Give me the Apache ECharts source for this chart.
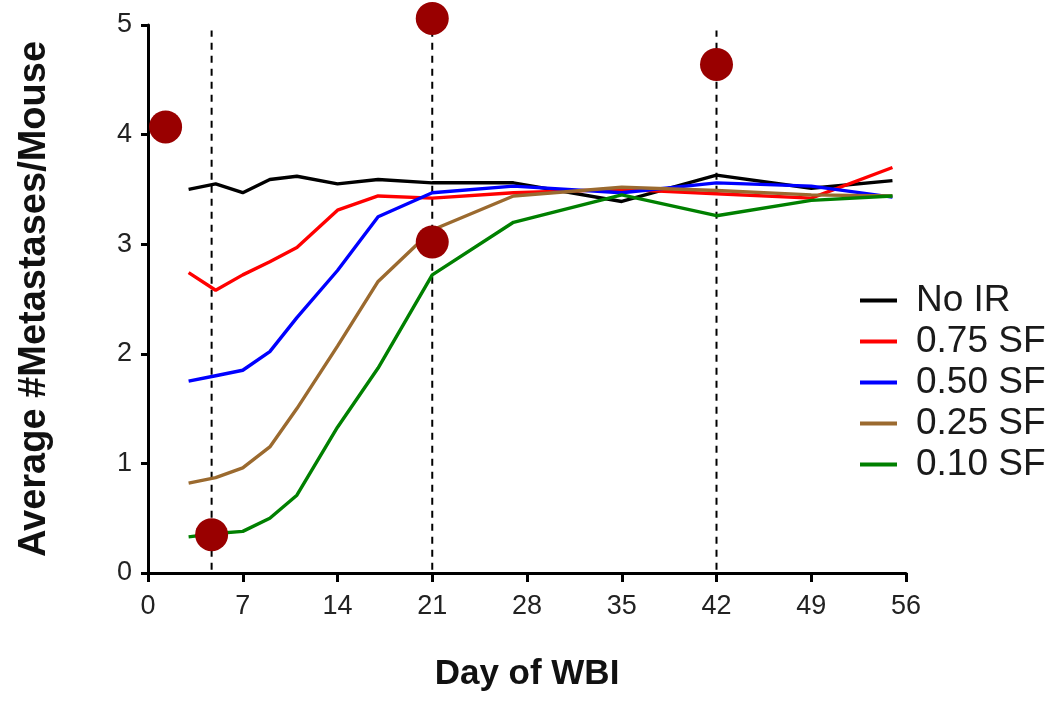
<!DOCTYPE html>
<html>
<head>
<meta charset="utf-8">
<title>Average metastases per mouse</title>
<script src="https://cdn.jsdelivr.net/npm/echarts@6/dist/echarts.min.js"></script>
<style>
  html, body { margin: 0; padding: 0; background: #fff; }
  #chart { width: 1056px; height: 704px; }
</style>
</head>
<body>
<div id="chart"></div>
<script>
// sampled days (x) and per-group averages
const days = [3, 5, 7, 9, 11, 14, 17, 21, 27, 35, 42, 49, 55]
const noIR = [3.50, 3.55, 3.47, 3.59, 3.62, 3.55, 3.59, 3.56, 3.56, 3.39, 3.63, 3.51, 3.58]
const sf075 = [2.74, 2.58, 2.72, 2.84, 2.97, 3.31, 3.44, 3.42, 3.47, 3.50, 3.46, 3.42, 3.70]
const sf050 = [1.75, 1.80, 1.85, 2.02, 2.33, 2.76, 3.25, 3.47, 3.53, 3.47, 3.56, 3.53, 3.43]
const sf025 = [0.82, 0.87, 0.96, 1.15, 1.50, 2.07, 2.66, 3.13, 3.44, 3.52, 3.49, 3.45, 3.44]
const sf010 = [0.33, 0.36, 0.38, 0.50, 0.71, 1.33, 1.87, 2.72, 3.20, 3.45, 3.26, 3.40, 3.44]

// red dots
const dotDays = [1.3, 4.7, 21, 21, 42]
const dotValues = [4.07, 0.35, 5.06, 3.02, 4.64]

// dashed verticals (WBI days) and their vertical extent
const dashedDays = [4.7, 21, 42]
const dashedRange = [0.03, 4.95]

const xTicks = [0, 7, 14, 21, 28, 35, 42, 49, 56]
const yTicks = [0, 1, 2, 3, 4, 5]

const groups = [
  {name: 'No IR', values: noIR, color: '#000000'},
  {name: '0.75 SF', values: sf075, color: '#ff0000'},
  {name: '0.50 SF', values: sf050, color: '#0000ff'},
  {name: '0.25 SF', values: sf025, color: '#9b6a2f'},
  {name: '0.10 SF', values: sf010, color: '#008000'}
]

const font = "'Liberation Sans', Arial, sans-serif"
const axisColor = '#000'

const series = []

dashedDays.forEach(d => {
  series.push({
    type: 'line',
    name: 'wbi-' + d,
    data: dashedRange.map(v => [d, v]),
    showSymbol: false,
    symbol: 'none',
    silent: true,
    z: 1,
    lineStyle: {color: '#000', width: 2, type: [7, 6]}
  })
})

groups.forEach(g => {
  series.push({
    type: 'line',
    name: g.name,
    data: days.map((d, i) => [d, g.values[i]]),
    symbol: 'none',
    z: 3,
    lineStyle: {color: g.color, width: 3.4},
    itemStyle: {color: g.color}
  })
})

series.push({
  type: 'scatter',
  name: 'dots',
  data: dotDays.map((d, i) => [d, dotValues[i]]),
  symbolSize: 33,
  clip: false,
  z: 5,
  itemStyle: {color: '#990000', opacity: 1}
})

const chart = echarts.init(document.getElementById('chart'), null, {renderer: 'canvas'})
chart.setOption({
  animation: false,
  backgroundColor: '#fff',
  grid: {left: 148, right: 150, top: 25, bottom: 131, containLabel: false},
  legend: {
    data: groups.map(g => g.name),
    orient: 'vertical',
    left: 855,
    top: 277,
    icon: 'rect',
    itemWidth: 37,
    itemHeight: 4,
    itemGap: 4,
    textStyle: {
      fontFamily: font,
      fontSize: 37,
      lineHeight: 37,
      color: '#1a1a1a',
      padding: [0, 0, 0, 14]
    }
  },
  xAxis: {
    type: 'value',
    min: xTicks[0],
    max: xTicks[xTicks.length - 1],
    interval: 7,
    name: 'Day of WBI',
    nameLocation: 'middle',
    nameGap: 84,
    nameTextStyle: {fontFamily: font, fontSize: 35, fontWeight: 'bold', color: '#111'},
    splitLine: {show: false},
    axisLine: {lineStyle: {color: axisColor, width: 3}},
    axisTick: {length: 9, lineStyle: {color: axisColor, width: 3}},
    axisLabel: {margin: 20, fontFamily: font, fontSize: 27, color: '#222'}
  },
  yAxis: {
    type: 'value',
    min: yTicks[0],
    max: yTicks[yTicks.length - 1],
    interval: 1,
    name: 'Average #Metastases/Mouse',
    nameLocation: 'middle',
    nameGap: 94,
    nameRotate: 90,
    nameTextStyle: {fontFamily: font, fontSize: 38, fontWeight: 'bold', color: '#111'},
    splitLine: {show: false},
    axisLine: {show: true, lineStyle: {color: axisColor, width: 3}},
    axisTick: {show: true, length: 7, lineStyle: {color: axisColor, width: 3}},
    axisLabel: {margin: 16, fontFamily: font, fontSize: 27, color: '#222'}
  },
  series: series
})
</script>
</body>
</html>
